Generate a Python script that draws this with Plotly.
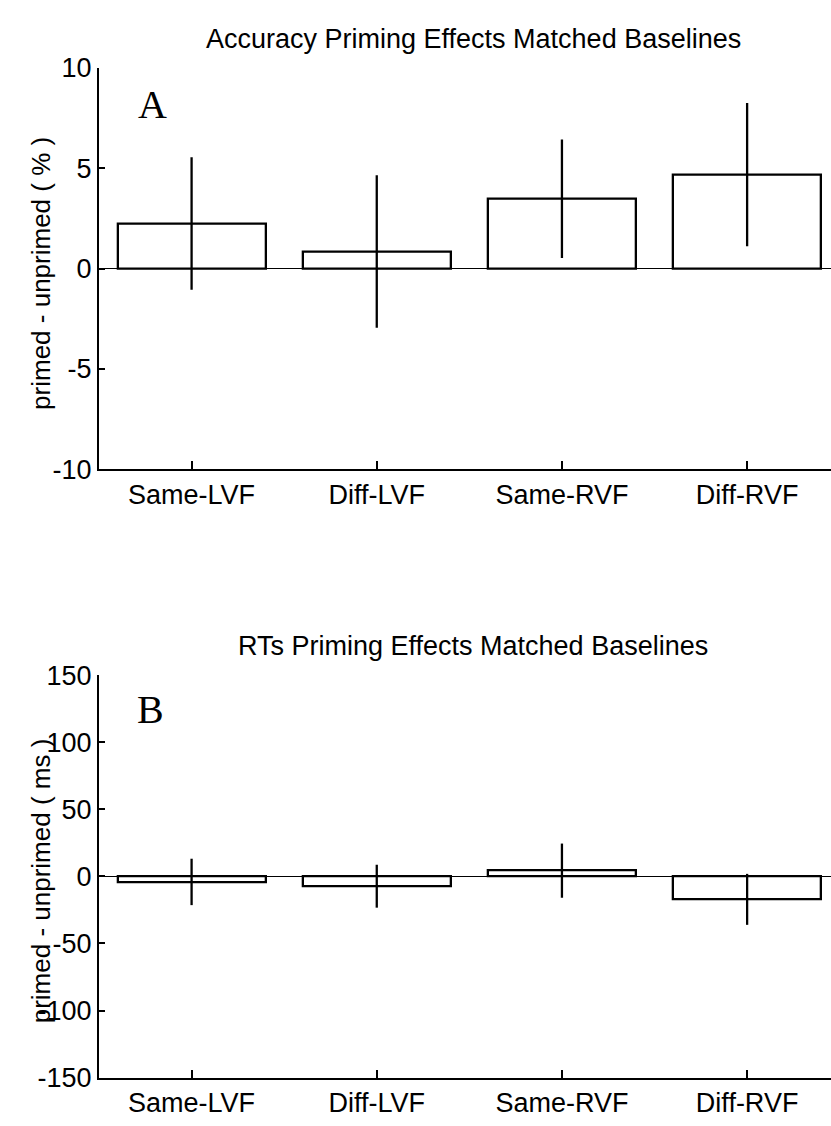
import plotly.graph_objects as go

categories = ["Same-LVF", "Diff-LVF", "Same-RVF", "Diff-RVF"]
acc_values = [2.25, 0.85, 3.48, 4.68]
acc_errors = [3.3, 3.8, 2.95, 3.57]
rt_values = [-4.1, -7.3, 4.3, -17.1]
rt_errors = [17.3, 16.0, 20.2, 19.0]
acc_ticks = [-10, -5, 0, 5, 10]
rt_ticks = [-150, -100, -50, 0, 50, 100, 150]

xpos = [1, 2, 3, 4]
W, H = 831, 1126
FONT = "Liberation Sans"
TICK_SIZE = 27

fig = go.Figure()
for vals, errs, ax in [(acc_values, acc_errors, ""), (rt_values, rt_errors, "2")]:
    fig.add_trace(go.Bar(
        x=xpos, y=vals, width=0.8,
        marker=dict(color="white", line=dict(color="black", width=2.3)),
        error_y=dict(type="data", array=errs, visible=True, width=0, thickness=2.3, color="black"),
        xaxis="x" + ax, yaxis="y" + ax, showlegend=False,
    ))

axis_common = dict(
    showline=True, linecolor="black", linewidth=2, ticks="inside",
    tickwidth=1.5, tickcolor="black", showgrid=False, mirror=False,
    tickfont=dict(family=FONT, size=TICK_SIZE, color="black"),
)
xdom = [99 / W, 1.0]
ydomA = [1 - 466.7 / H, 1 - 54.3 / H]
ydomB = [1 - 1091.7 / H, 1 - 678.3 / H]

fig.update_layout(
    width=W, height=H, margin=dict(l=0, r=0, t=0, b=0),
    paper_bgcolor="white", plot_bgcolor="white", bargap=0,
    xaxis=dict(domain=xdom, range=[0.5, 4.453], tickvals=xpos, ticktext=categories,
               anchor="y", zeroline=False, ticklen=8, **axis_common),
    yaxis=dict(domain=ydomA, range=[-10, 10], tickvals=acc_ticks,
               ticktext=[str(v) for v in acc_ticks], anchor="x", ticklen=6,
               zeroline=True, zerolinecolor="black", zerolinewidth=1, **axis_common),
    xaxis2=dict(domain=xdom, range=[0.5, 4.453], tickvals=xpos, ticktext=categories,
                anchor="y2", zeroline=False, ticklen=8, **axis_common),
    yaxis2=dict(domain=ydomB, range=[-150, 150], tickvals=rt_ticks,
                ticktext=[str(v) for v in rt_ticks], anchor="x2", ticklen=6,
                zeroline=True, zerolinecolor="black", zerolinewidth=1, **axis_common),
)


def note(text, x, y, size, family=FONT, angle=0):
    return dict(text=text, x=x / W, y=1 - y / H, xref="paper", yref="paper",
                xanchor="center", yanchor="middle", showarrow=False, textangle=angle,
                font=dict(family=family, size=size, color="black"))


ann = [
    note("Accuracy Priming Effects Matched Baselines", 473, 25, 27),
    note("RTs Priming Effects Matched Baselines", 473, 648, 27),
    note("primed - unprimed ( % )", 41, 266, 26, angle=-90),
    note("primed - unprimed ( ms )", 41, 890, 26, angle=-90),
    note("A", 152, 92, 40, family="Liberation Serif"),
    note("B", 150, 714, 40, family="Liberation Serif"),
]
fig.update_layout(annotations=ann)

fig.write_html("out.html")
